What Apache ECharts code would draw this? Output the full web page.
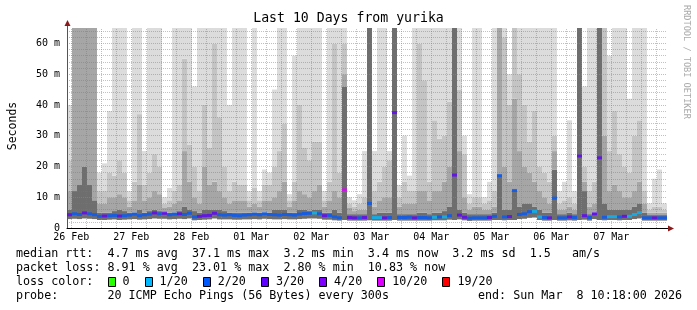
<!DOCTYPE html>
<html><head><meta charset="utf-8">
<script src="https://cdn.jsdelivr.net/npm/echarts@6/dist/echarts.min.js"></script>
<style>html,body{margin:0;padding:0;background:#fff}#c{width:697px;height:310px}</style>
</head><body><div id="c"></div>
<script>
// ---------- data ----------
const titleText = 'Last 10 Days from yurika';
const yAxisName = 'Seconds';
const dayLabels = ['26 Feb','27 Feb','28 Feb','01 Mar','02 Mar','03 Mar','04 Mar','05 Mar','06 Mar','07 Mar'];
const startHour = 10.3;   // Feb 26 10:18 (hours since Feb 26 00:00)
const endHour = 250.3;    // Mar 8 10:18
const binHours = 2;

// median RTT per 2-hour bin (ms)
const medianMs = [
 4.3,4.6,4.4,4.9,4.6,4.3,3.8,3.9,4.0,4.1,3.9,4.0,4.2,4.5,4.0,4.3,4.5,4.9,4.6,4.8,
 4.3,4.5,4.6,4.4,4.8,3.6,3.8,4.0,4.1,4.8,4.3,4.2,4.3,4.1,4.0,4.2,4.3,4.5,4.3,4.6,
 4.4,4.3,4.2,4.4,4.3,4.2,4.5,4.7,4.8,4.9,4.6,4.0,4.1,3.6,3.3,12.4,3.4,3.3,3.3,3.4,
 8.0,3.4,3.4,3.3,3.4,37.5,3.4,3.4,3.5,3.3,3.4,3.4,3.3,3.5,3.6,3.6,4.0,17.2,4.2,3.5,
 3.2,3.3,3.3,3.3,3.4,3.8,17.0,3.6,3.7,12.2,4.4,4.6,5.3,5.4,3.6,3.4,3.3,9.7,3.3,3.3,
 3.6,3.4,23.4,4.0,3.4,4.6,22.8,3.5,3.7,3.7,3.6,3.8,3.8,4.4,5.0,3.3,3.3,3.3,3.3,3.3
];
// lost pings out of 20 per bin
const lossCount = [
 3,2,2,3,2,2,2,3,2,2,3,2,2,2,2,2,2,3,2,3,
 2,2,3,2,2,2,3,3,3,3,2,2,2,2,2,2,2,2,2,2,
 2,2,2,2,2,2,2,2,2,1,2,3,2,2,2,10,3,3,2,3,
 2,1,1,3,2,3,2,2,2,3,2,2,2,1,2,1,2,3,3,3,
 2,2,2,2,3,2,2,2,3,2,2,2,2,1,1,2,3,2,2,2,
 3,2,3,3,2,3,3,2,1,1,2,3,1,1,1,2,2,3,2,2
];
// smoke envelope (ms): bottom, dark band top, mid band top, light band top, max
const smokeLow = [
 2.9,3.0,2.9,3.1,3.0,2.9,2.6,2.6,2.7,2.8,2.6,2.7,2.8,2.9,2.7,2.8,2.9,3.1,3.0,3.0,
 2.8,2.9,3.0,2.9,3.1,2.5,2.6,2.7,2.8,3.1,2.8,2.8,2.8,2.7,2.7,2.8,2.8,2.9,2.8,3.0,
 2.9,2.8,2.8,2.9,2.8,2.8,2.9,3.0,3.1,3.1,3.0,2.7,2.7,2.5,2.4,2.6,2.4,2.4,2.4,2.4,
 2.5,2.4,2.4,2.4,2.4,2.6,2.4,2.4,2.4,2.4,2.4,2.4,2.4,2.5,2.5,2.5,2.7,2.6,2.8,2.5,
 2.3,2.4,2.4,2.4,2.4,2.6,2.6,2.5,2.6,2.6,2.9,3.0,3.3,3.4,2.6,2.4,2.4,2.6,2.4,2.4,
 2.5,2.4,2.6,2.7,2.4,2.9,2.6,2.5,2.6,2.6,2.5,2.6,2.6,2.9,3.1,2.4,2.4,2.4,2.4,2.4
];
const smokeQ1 = [
 6,12,14,20,14,9,5,5,5,5.5,6,5.5,5,5,6,5,5.5,6,5.5,5,
 5,5,5.5,7,6,5.5,5,6,6,6,6,5.5,5,5,5,5,5,5,5,5,
 5,6,6,6,5,5,6,6,5.5,6,6,5,5,6,5,46,4.5,4.5,4.5,4.5,
 65,4.5,5,5,5,65,4.5,4.5,4.5,4.5,5,5,4.5,5,5,5.5,7,65,6,5,
 4.5,4.5,4.5,4.5,4.5,5,17.5,6,6,12.5,7,8,8,7,6,5,5,19,4.5,4.5,
 5,4.5,65,12,4.5,5,65,8,6,6,6,6,6,7,8,5,4.2,4.2,4.2,4.2
];
const smokeQ2 = [
 12,65,65,65,65,65,8,8,10,10,11,10,7,9,14,9,10,12,11,6.5,
 7,8,9,25,15,10,8,20,14,15,12,10,8,9,9,9,7,8,7,9,
 9,10,12,15,7,9,12,11,10,12,14,7,9,12,10,50,6.5,5.5,6,6,
 65,7,9,10,10,65,7,8,8,8,12,12,9,12,12,15,20,65,25,10,
 6,7,7,6,6,7,65,20,15,42,25,20,18,15,12,10,8,25,6,6,
 7,6,65,15,7,8,65,30,12,14,12,10,10,12,15,8,5,5,5,5
];
const smokeQ3 = [
 22,65,65,65,65,65,12,12,18,17,22,18,9,15,37,14,18,24,20,8,
 9,12,14,55,27,20,12,40,26,60,36,20,12,15,14,14,9,13,9,14,
 14,20,25,34,9,15,40,26,22,28,28,9,15,60,18,60,8,7,8,10,
 65,12,15,20,22,65,10,15,12,12,60,48,15,35,29,30,41,65,45,24,
 8,10,10,8,9,12,65,62,40,65,50,40,28,38,20,18,15,30,8,9,
 10,8,65,20,12,15,65,65,25,38,24,20,18,30,35,12,6,7,7,6
];
const smokeMax = [
 40,65,65,65,65,65,18,21,38,65,65,65,12,65,65,25,65,65,65,10,
 13,65,65,65,65,46,65,65,65,65,65,65,40,65,65,65,12,65,12,19,
 18,45,65,65,11,56,65,65,65,65,65,12,65,65,65,65,10,9,11,25,
 65,25,65,65,25,65,14,30,17,65,65,65,65,65,65,65,65,65,65,30,
 11,65,65,10,15,65,65,65,50,65,65,65,65,65,65,65,65,65,12,15,
 35,12,65,46,65,65,65,65,56,65,65,65,42,65,65,65,8,16,19,8
];
const lossLabels = ['0','1/20','2/20','3/20','4/20','10/20','19/20'];
const lossSteps  = [0,1,2,3,4,10,19];
const lossColors = ['#26ff00','#00b8ff','#0059ff','#5e00ff','#7e00ff','#dd00ff','#ff0000'];
const statsLines = [
 'median rtt:  4.7 ms avg  37.1 ms max  3.2 ms min  3.4 ms now  3.2 ms sd  1.5   am/s',
 'packet loss: 8.91 % avg  23.01 % max  2.80 % min  10.83 % now',
 'loss color:',
 'probe:       20 ICMP Echo Pings (56 Bytes) every 300s'
];
const endText = 'end: Sun Mar  8 10:18:00 2026';
const sideText = 'RRDTOOL / TOBI OETIKER';

// ---------- build ----------
const MONO = 'DejaVu Sans Mono';
const yMax = 65;
const grid = {left: 67, right: 30, top: 28, bottom: 82};
const binIdx = medianMs.map((_, i) => i);

const layers = [smokeLow, smokeQ1, smokeQ2, smokeQ3, smokeMax];
const layerColors = ['rgba(0,0,0,0)', '#6e6e6e', '#a6a6a6', '#c4c4c4', '#dcdcdc'];
const series = layers.map((arr, li) => ({
  type: 'bar', stack: 'smoke', xAxisIndex: 0, barCategoryGap: '0%', silent: true, z: 2,
  itemStyle: {color: layerColors[li]},
  data: arr.map((v, i) => Math.max(0, Math.min(v, yMax) - (li ? Math.min(layers[li-1][i], yMax) : 0)))
}));

// grid lines drawn over the smoke (as RRDtool does)
const gridLines = [];
for (let v = 2; v < yMax; v += 2) {
  const major = v % 10 === 0;
  gridLines.push({yAxis: v, lineStyle: {color: major ? 'rgba(255,90,90,0.55)' : 'rgba(120,120,120,0.45)', type: [1, 1], width: 1}});
}
for (let h = Math.ceil(startHour / 6) * 6; h < endHour; h += 6) {
  const major = h % 24 === 0;
  gridLines.push({xAxis: h, lineStyle: {color: major ? 'rgba(255,90,90,0.55)' : 'rgba(120,120,120,0.45)', type: [1, 1], width: 1}});
}
series.push({
  type: 'line', xAxisIndex: 1, data: [[startHour, 0]], showSymbol: false, silent: true, z: 3,
  lineStyle: {opacity: 0},
  markLine: {silent: true, symbol: ['none', 'none'], label: {show: false}, animation: false, z: 3, data: gridLines}
});

const colorOfLoss = n => { let c = lossColors[0]; lossSteps.forEach((s, i) => { if (n >= s) c = lossColors[i]; }); return c; };
const plotW = 697 - grid.left - grid.right;
series.push({
  type: 'scatter', xAxisIndex: 0, symbol: 'rect', symbolSize: [plotW / medianMs.length, 3], silent: true, z: 10,
  itemStyle: {color: p => colorOfLoss(p.data[2])},
  data: medianMs.map((m, i) => [i, m, lossCount[i]])
});

const graphics = [
  {type: 'text', left: 'center', top: 12, style: {text: titleText, font: '13.2px ' + MONO, fill: '#000'}},
  {type: 'text', x: 13, y: 126, rotation: Math.PI / 2, style: {text: yAxisName, font: '11.5px ' + MONO, fill: '#000', textAlign: 'center', textVerticalAlign: 'middle'}},
  {type: 'text', x: 686, y: 5, rotation: -Math.PI / 2, style: {text: sideText, font: '8.6px ' + MONO, fill: '#aaaaaa', textAlign: 'left', textVerticalAlign: 'middle'}}
];
const lineY = [254, 268, 282, 296];
const charW = 7.04;
statsLines.forEach((s, i) => graphics.push({type: 'text', x: 16, y: lineY[i], style: {text: s, font: '11.7px ' + MONO, fill: '#000', textVerticalAlign: 'middle'}}));
graphics.push({type: 'text', x: 478, y: lineY[3], style: {text: endText, font: '11.7px ' + MONO, fill: '#000', textVerticalAlign: 'middle'}});
let bx = 16 + 13 * charW;
lossLabels.forEach((lab, i) => {
  graphics.push({type: 'rect', shape: {x: Math.round(bx) + 0.5, y: 277.5, width: 7, height: 9}, style: {fill: lossColors[i], stroke: '#000', lineWidth: 1}});
  graphics.push({type: 'text', x: bx + 15, y: lineY[2], style: {text: lab, font: '11.7px ' + MONO, fill: '#000', textVerticalAlign: 'middle'}});
  bx = bx + 15 + lab.length * charW + 15;
});

const chart = echarts.init(document.getElementById('c'), null, {renderer: 'canvas'});
chart.setOption({
  backgroundColor: '#ffffff',
  animation: false,
  grid: grid,
  xAxis: [{
    type: 'category', data: binIdx, boundaryGap: true, show: false
  }, {
    type: 'value', min: startHour, max: endHour, z: 6, position: 'bottom',
    splitLine: {show: false}, axisTick: {show: false},
    axisLine: {show: true, onZero: false, lineStyle: {color: '#000', width: 1}},
    axisLabel: {
      customValues: dayLabels.map((_, i) => 12 + 24 * i),
      formatter: v => dayLabels[Math.round((v - 12) / 24)] || '',
      fontFamily: MONO, fontSize: 10, color: '#000', margin: 4
    }
  }],
  yAxis: {
    type: 'value', min: 0, max: yMax, interval: 10, z: 6,
    splitLine: {show: false}, axisTick: {show: false},
    axisLine: {show: true, lineStyle: {color: '#555', width: 1}},
    axisLabel: {showMaxLabel: false, formatter: v => v === 0 ? '0' : v + ' m', fontFamily: MONO, fontSize: 10, color: '#000', margin: 7}
  },
  series: series,
  graphic: graphics
});
// axis arrows
const p0 = chart.convertToPixel({xAxisIndex: 1, yAxisIndex: 0}, [startHour, 0]);
const p1 = chart.convertToPixel({xAxisIndex: 1, yAxisIndex: 0}, [endHour, yMax]);
const ax = Math.round(p0[0]) + 0.5, ay = Math.round(p0[1]) + 0.5;
graphics.push(
  {type: 'line', shape: {x1: ax, y1: p1[1], x2: ax, y2: p1[1] - 5}, style: {stroke: '#555', lineWidth: 1}},
  {type: 'polygon', shape: {points: [[ax - 3, p1[1] - 2], [ax + 3, p1[1] - 2], [ax, p1[1] - 8]]}, style: {fill: '#8b1a1a'}},
  {type: 'line', shape: {x1: p1[0], y1: ay, x2: p1[0] + 3, y2: ay}, style: {stroke: '#000', lineWidth: 1}},
  {type: 'polygon', shape: {points: [[p1[0] + 1, ay - 3], [p1[0] + 1, ay + 3], [p1[0] + 7, ay]]}, style: {fill: '#8b1a1a'}}
);
chart.setOption({graphic: graphics});
</script></body></html>
